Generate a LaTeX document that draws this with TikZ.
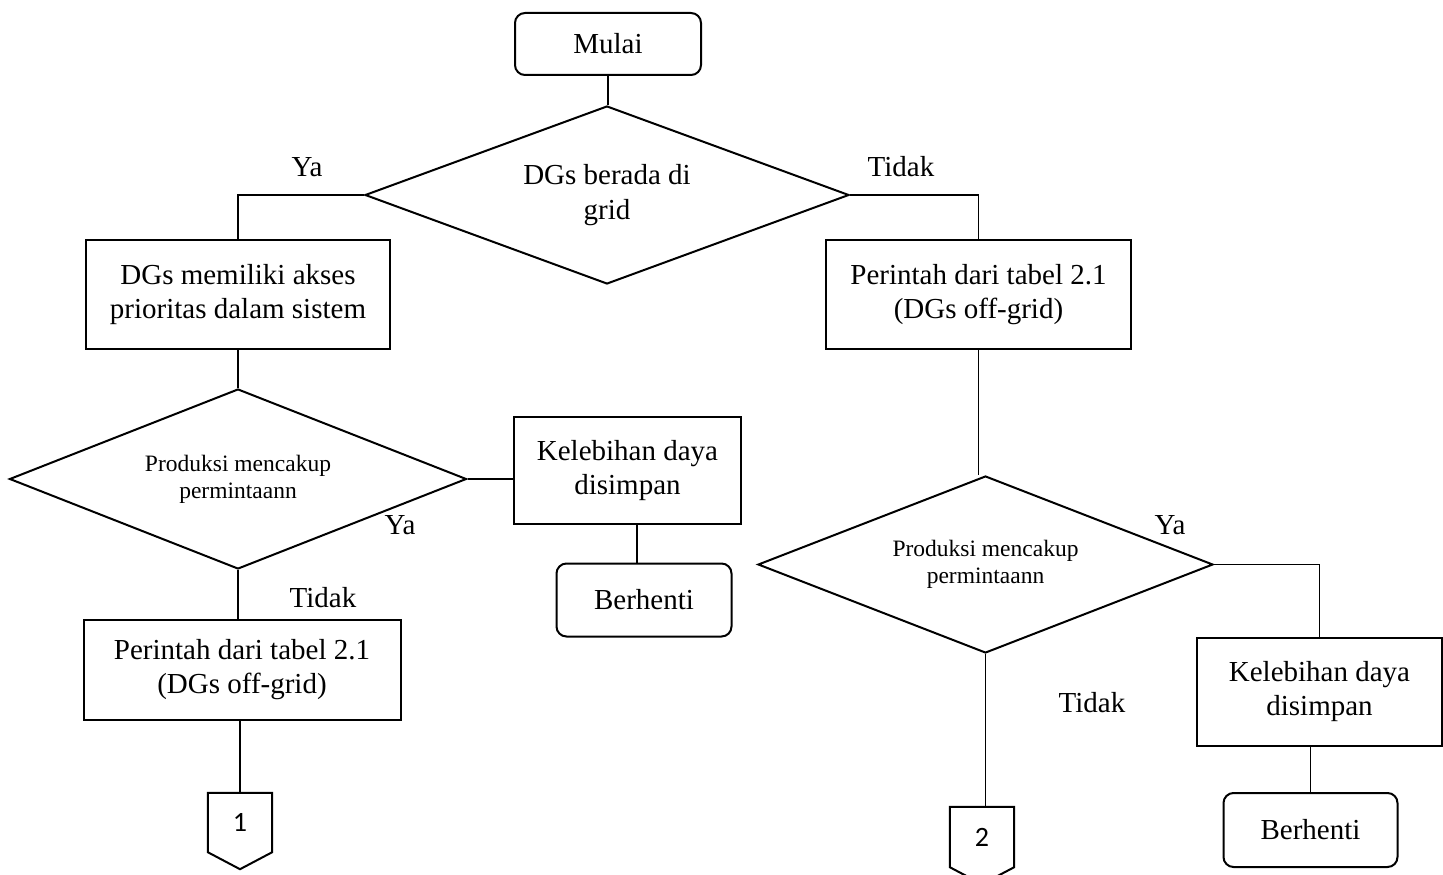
\documentclass[tikz,border=0pt]{standalone}
\usepackage{fontspec}
\setmainfont{Liberation Serif}
\newfontfamily\numfont{Carlito}
\usetikzlibrary{shapes.geometric,calc}

\tikzset{
  box/.style={draw,line width=2pt,inner sep=0pt,align=center,font=\fontsize{29}{34}\selectfont},
  roundbox/.style={box,rounded corners=10pt},
  decision/.style={draw,diamond,shape aspect=2.6,line width=2pt,inner sep=0pt,align=center},
  lbl/.style={font=\fontsize{29}{34}\selectfont},
  link/.style={line width=1.8pt},
  pagecon/.style={inner sep=0pt,font=\numfont\fontsize{28}{30}\selectfont}
}

\begin{document}
\begin{tikzpicture}[x=1pt,y=-1pt]
\useasboundingbox (0,0) rectangle (1443,875);

% start and first decision
\node[roundbox,minimum width=186pt,minimum height=62pt] (mulai) at (608,44) {Mulai};
\node[decision,minimum width=484pt,minimum height=178pt,font=\fontsize{29}{35}\selectfont] (grid) at (607,195) {DGs berada di\\grid};

% left side
\node[box,minimum width=304pt,minimum height=109pt] (prio) at (238,294.5) {DGs memiliki akses\\prioritas dalam sistem};
\node[decision,minimum width=457pt,minimum height=180pt,font=\fontsize{23.5}{27}\selectfont] (prodA) at (238,479) {Produksi mencakup\\permintaann};
\node[box,minimum width=227pt,minimum height=107pt] (simpanA) at (627.5,470.5) {Kelebihan daya\\disimpan};
\node[roundbox,minimum width=175pt,minimum height=73pt] (stopA) at (644,600) {Berhenti};
\node[box,minimum width=317pt,minimum height=100pt] (offB) at (242,669.5) {Perintah dari tabel 2.1\\(DGs off-grid)};
\node[pagecon,minimum width=64pt,minimum height=59pt] (conA) at (240,822.5) {1};

% right side
\node[box,minimum width=305pt,minimum height=109pt] (offA) at (978.5,294.5) {Perintah dari tabel 2.1\\(DGs off-grid)};
\node[decision,minimum width=455pt,minimum height=177pt,font=\fontsize{23.5}{27}\selectfont] (prodB) at (985.5,564.5) {Produksi mencakup\\permintaann};
\node[box,minimum width=245pt,minimum height=108pt] (simpanB) at (1319.5,692) {Kelebihan daya\\disimpan};
\node[roundbox,minimum width=174pt,minimum height=74pt] (stopB) at (1310.5,830) {Berhenti};
\node[pagecon,minimum width=64pt,minimum height=60pt] (conB) at (982,837) {2};

% branch labels
\node[lbl] (yaA) at (307,167) {Ya};
\node[lbl] (tidakA) at (901,167) {Tidak};
\node[lbl] (yaB) at (400,525) {Ya};
\node[lbl] (tidakB) at (323,598) {Tidak};
\node[lbl] (yaC) at (1170,525) {Ya};
\node[lbl] (tidakC) at (1092,703) {Tidak};

% off-page connectors
\draw[line width=2pt] (conA.north west) -- (conA.north east) -- (conA.south east)
  -- ($(conA.south)+(0,17)$) -- (conA.south west) -- cycle;
\draw[line width=2pt] (conB.north west) -- (conB.north east) -- (conB.south east)
  -- ($(conB.south)+(0,17)$) -- (conB.south west) -- cycle;

% links
\coordinate (s1) at ([xshift=-7pt]stopA.north);
\draw[link] (mulai.south) -- (mulai.south |- grid.north);
\draw[link] (grid.west) -| (prio.north);
\draw[link] (grid.east) -| (offA.north);
\draw[link] (prio.south) -- (prodA.north);
\draw[link] (prodA.east) -- (prodA.east -| simpanA.west);
\draw[link] (s1 |- simpanA.south) -- (s1);
\draw[link] (prodA.south) -- (prodA.south |- offB.north);
\draw[link] (conA.north |- offB.south) -- (conA.north);
\draw[link] (offA.south) -- (offA.south |- prodB.north);
\draw[link] (prodB.east) -| (simpanB.north);
\draw[link] (stopB.north |- simpanB.south) -- (stopB.north);
\draw[link] (prodB.south) -- (prodB.south |- conB.north);
\end{tikzpicture}
\end{document}
